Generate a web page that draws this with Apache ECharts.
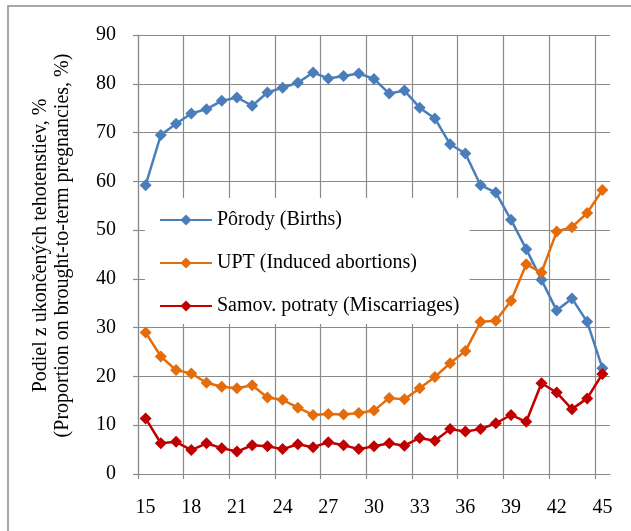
<!DOCTYPE html>
<html>
<head>
<meta charset="utf-8">
<script src="https://cdn.jsdelivr.net/npm/echarts@6/dist/echarts.min.js"></script>
<style>
  html, body { margin: 0; padding: 0; background: #fff; overflow: hidden; }
  #chart { width: 631px; height: 531px; }
</style>
</head>
<body>
<div id="chart"></div>
<script>
// vek matky (age)
var ages = ['15', '16', '17', '18', '19', '20', '21', '22', '23', '24', '25', '26', '27', '28', '29', '30',
    '31', '32', '33', '34', '35', '36', '37', '38', '39', '40', '41', '42', '43', '44', '45'];

// porody
var births = [59.2, 69.5, 71.8, 73.9, 74.8, 76.5, 77.2, 75.5, 78.2, 79.2, 80.2, 82.3, 81.1, 81.6, 82.1, 81.0,
    78.0, 78.6, 75.1, 72.9, 67.6, 65.7, 59.2, 57.7, 52.1, 46.1, 39.8, 33.5, 36.0, 31.2, 21.7];

// UPT
var abortions = [29.0, 24.1, 21.3, 20.6, 18.7, 17.9, 17.6, 18.2, 15.7, 15.2, 13.6, 12.1, 12.3, 12.2, 12.5, 13.0,
    15.6, 15.3, 17.6, 19.9, 22.7, 25.2, 31.2, 31.4, 35.5, 43.0, 41.3, 49.7, 50.6, 53.5, 58.2];

// samovolne potraty
var miscarriages = [11.4, 6.3, 6.6, 4.9, 6.3, 5.3, 4.6, 5.9, 5.7, 5.1, 6.1, 5.5, 6.5, 5.9, 5.1, 5.7,
    6.3, 5.8, 7.4, 6.8, 9.2, 8.7, 9.2, 10.4, 12.1, 10.7, 18.6, 16.7, 13.3, 15.5, 20.5];

var seriesNames = ['Pôrody (Births)', 'UPT (Induced abortions)', 'Samov. potraty (Miscarriages)'];
var seriesColors = ['#4a7ebb', '#e46c0a', '#c00000'];

var font = '"Liberation Serif", "Times New Roman", serif';
var gridColor = '#8a8a8a';

// rozmery plochy grafu
var W = 631, H = 531, gLeft = 138, gRight = 21, gTop = 35, gBottom = 57;
var plotW = W - gLeft - gRight;
// mriezka konci na poslednej tretine (hranica 30 z 31 pasiem)
var lastBound = Math.floor((ages.length - 1) / 3) * 3;
var grid2Right = W - (gLeft + plotW * lastBound / ages.length);

var chart = echarts.init(document.getElementById('chart'));

function makeSeries(idx, values) {
    return {
        name: seriesNames[idx],
        type: 'line',
        xAxisIndex: 0,
        yAxisIndex: 0,
        data: values,
        symbol: 'diamond',
        symbolSize: 12,
        showAllSymbol: true,
        color: seriesColors[idx],
        lineStyle: { width: 2.5, color: seriesColors[idx] },
        itemStyle: { color: seriesColors[idx] }
    };
}

var option = {
    animation: false,
    textStyle: { fontFamily: font },
    graphic: [
        {
            // ramcek okolo grafu (vidno len lavu a hornu stranu)
            type: 'polyline',
            shape: { points: [[8, H + 10], [8, 6], [W + 10, 6]] },
            style: { fill: 'none', stroke: '#8a8a8a', lineWidth: 1.5 },
            silent: true
        }
    ],
    grid: [
        { left: gLeft, right: gRight, top: gTop, bottom: gBottom },
        // len pre zvisle ciary mriezky
        { left: gLeft, right: grid2Right, top: gTop, bottom: gBottom }
    ],
    legend: {
        orient: 'vertical',
        left: 145,
        top: 198,
        backgroundColor: '#fff',
        padding: [12, 10, 8, 14],
        itemWidth: 52,
        itemHeight: 14,
        itemGap: 23,
        textStyle: { fontFamily: font, fontSize: 20, color: '#000' },
        data: seriesNames
    },
    xAxis: [
        {
            gridIndex: 0,
            type: 'category',
            data: ages,
            boundaryGap: true,
            axisLine: { lineStyle: { color: gridColor, width: 1.2 } },
            axisTick: { show: false },
            axisLabel: { interval: 2, margin: 24, fontFamily: font, fontSize: 20, color: '#000' },
            splitLine: { show: false }
        },
        {
            gridIndex: 1,
            type: 'value',
            min: 0,
            max: lastBound,
            interval: 3,
            axisLine: { show: false },
            axisTick: { show: true, length: 5, lineStyle: { color: gridColor, width: 1.2 } },
            axisLabel: { show: false },
            splitLine: { show: true, lineStyle: { color: gridColor, width: 1.2 } }
        }
    ],
    yAxis: [
        {
            gridIndex: 0,
            type: 'value',
            min: 0,
            max: 90,
            interval: 10,
            name: 'Podiel z ukončených tehotenstiev, %\n(Proportion on brought-to-term pregnancies, %)',
            nameLocation: 'middle',
            nameGap: 64,
            nameTextStyle: { fontFamily: font, fontSize: 20, color: '#000', lineHeight: 22, padding: [0, 0, 0, 18] },
            axisLine: { show: true, lineStyle: { color: gridColor, width: 1.2 } },
            axisTick: { show: true, length: 5, lineStyle: { color: gridColor, width: 1.2 } },
            axisLabel: { margin: 22, fontFamily: font, fontSize: 20, color: '#000' },
            splitLine: { show: true, lineStyle: { color: gridColor, width: 1.2 } }
        },
        {
            gridIndex: 1,
            type: 'value',
            min: 0,
            max: 90,
            show: false
        }
    ],
    series: [
        makeSeries(0, births),
        makeSeries(1, abortions),
        makeSeries(2, miscarriages)
    ]
};

chart.setOption(option);
</script>
</body>
</html>
